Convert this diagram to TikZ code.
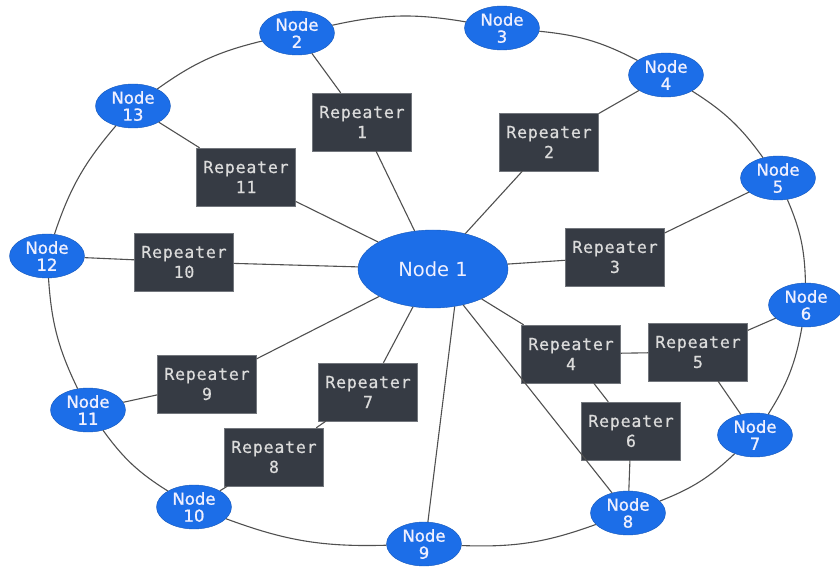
\documentclass[tikz,border=0pt]{standalone}
\usepackage{fontspec}
\setsansfont{DejaVu Sans}
\setmonofont[LetterSpace=5, FakeBold=0.6]{DejaVu Sans Mono}
\newfontfamily\stationfont[FakeBold=1.2]{DejaVu Sans}
\usetikzlibrary{shapes.geometric, positioning}

\definecolor{nodeblue}{HTML}{1C6EE8}
\definecolor{repgray}{HTML}{363B44}
\definecolor{linkgray}{HTML}{505050}

\begin{document}
\begin{tikzpicture}[
        x=1pt, y=-1pt,
        hub/.style={ellipse, fill=nodeblue, draw=nodeblue!80!black, text=white!94!blue, minimum width=150pt, minimum height=78pt, inner sep=0pt, font=\sffamily\fontsize{19.5}{21}\selectfont},
        station/.style={ellipse, fill=nodeblue, draw=nodeblue!80!black, text=white!94!blue, minimum width=75pt, minimum height=44pt, inner sep=0pt, align=center, font=\stationfont\fontsize{16.5}{17}\selectfont},
        repeater/.style={rectangle, fill=repgray, draw=repgray!70, text=white!86!black, minimum width=99pt, minimum height=58pt, inner sep=0pt, align=center, font=\ttfamily\fontsize{16.5}{20}\selectfont},
        link/.style={draw=linkgray, line width=1.1pt},
        ring/.style={link, bend left=11}
    ]
        \useasboundingbox (0,0) rectangle (840,569);
        % central node and outer stations
        \node[hub] (n1) at (433,269) {Node 1};
        \node[station] (n2) at (297,33) {Node\\2};
        \node[station] (n3) at (502,28) {Node\\3};
        \node[station] (n4) at (666,75) {Node\\4};
        \node[station] (n5) at (778,178) {Node\\5};
        \node[station] (n6) at (806,305) {Node\\6};
        \node[station] (n7) at (755,435) {Node\\7};
        \node[station] (n8) at (628,513) {Node\\8};
        \node[station] (n9) at (424,544) {Node\\9};
        \node[station] (n10) at (194,507) {Node\\10};
        \node[station] (n11) at (88,410) {Node\\11};
        \node[station] (n12) at (47,256) {Node\\12};
        \node[station] (n13) at (133,106) {Node\\13};
        % repeaters
        \node[repeater] (r1) at (362,122) {Repeater\\1};
        \node[repeater] (r2) at (549,142) {Repeater\\2};
        \node[repeater] (r3) at (615,257) {Repeater\\3};
        \node[repeater] (r4) at (571,354) {Repeater\\4};
        \node[repeater] (r5) at (698,352) {Repeater\\5};
        \node[repeater] (r6) at (631,431) {Repeater\\6};
        \node[repeater] (r7) at (368,392) {Repeater\\7};
        \node[repeater] (r8) at (274,457) {Repeater\\8};
        \node[repeater] (r9) at (207,384) {Repeater\\9};
        \node[repeater] (r10) at (184,262) {Repeater\\10};
        \node[repeater] (r11) at (246,177) {Repeater\\11};
        % outer ring
        \foreach \a/\b in {n2/n3, n3/n4, n4/n5, n5/n6, n6/n7, n7/n8, n8/n9, n9/n10, n10/n11, n11/n12, n12/n13, n13/n2}
            \draw[ring] (\a) to (\b);
        % spokes from the hub
        \foreach \r in {r1, r2, r3, r4, r7, r9, r10, r11}
            \draw[link] (n1) -- (\r);
        \draw[link] (n1.-60) -- (n9.80);
        \draw[link] (n1.-50) -- (n8);
        % repeater links
        \draw[link] (r1) -- (n2);
        \draw[link] (r2) -- (n4);
        \draw[link] (r3) -- (n5);
        \draw[link] (r4) -- (r5);
        \draw[link] (r4) -- (r6);
        \draw[link] (r5) -- (n6);
        \draw[link] (r5) -- (n7);
        \draw[link] (r6) -- (n8);
        \draw[link] (r7) -- (r8);
        \draw[link] (r8) -- (n10);
        \draw[link] (r9) -- (n11);
        \draw[link] (r10) -- (n12);
        \draw[link] (r11) -- (n13);
    \end{tikzpicture}
\end{document}
